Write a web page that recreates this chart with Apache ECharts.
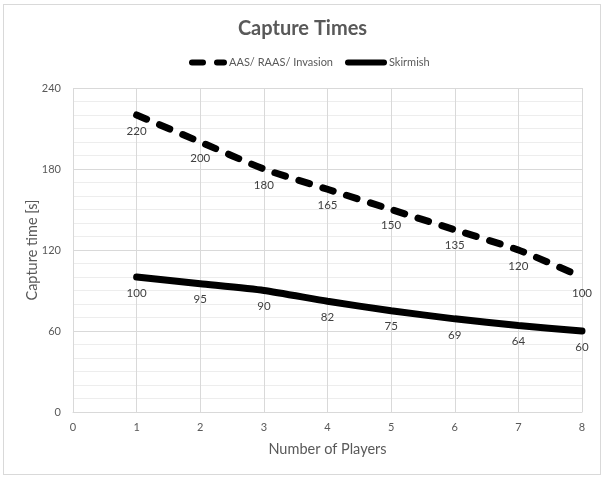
<!DOCTYPE html>
<html>
<head>
<meta charset="utf-8">
<script src="https://cdn.jsdelivr.net/npm/echarts@6/dist/echarts.min.js"></script>
<style>
  html, body { margin: 0; padding: 0; background: #fff; }
  #frame { position: absolute; left: 3px; top: 4px; width: 598px; height: 471px; border: 1px solid #d9d9d9; box-sizing: border-box; }
  #chart { position: absolute; left: 0; top: 0; width: 605px; height: 480px; }
</style>
</head>
<body>
<div id="frame"></div>
<div id="chart"></div>
<script>
// Players per point and the capture time for each game mode
const players = [1, 2, 3, 4, 5, 6, 7, 8];
const aasTimes = [220, 200, 180, 165, 150, 135, 120, 100];
const skirmishTimes = [100, 95, 90, 82, 75, 69, 64, 60];
const seriesNames = ['AAS/ RAAS/ Invasion', 'Skirmish'];

const FONT = 'Lato, "Open Sans", sans-serif';

const toPairs = (xs, ys) => xs.map((x, i) => [x, ys[i]]);

const labelStyle = {
  show: true,
  position: 'bottom',
  distance: 10,
  color: '#404040',
  fontSize: 11.5,
  fontFamily: FONT
};

const legendBase = {
  top: 52,
  itemHeight: 12,
  itemStyle: { opacity: 0 },
  lineStyle: { width: 6 },
  textStyle: { fontFamily: FONT, fontSize: 11, color: '#595959' }
};

const chart = echarts.init(document.getElementById('chart'), null, { renderer: 'canvas' });
chart.setOption({
  backgroundColor: 'transparent',
  animation: false,
  title: {
    text: 'Capture Times',
    left: 'center',
    top: 14,
    textStyle: { fontFamily: FONT, fontSize: 20, fontWeight: 'bold', color: '#595959' }
  },
  legend: [
    Object.assign({ left: 184, itemWidth: 32, data: [seriesNames[0]] }, legendBase),
    Object.assign({ left: 340, itemWidth: 36, data: [seriesNames[1]] }, legendBase)
  ],
  grid: { left: 73, right: 23, top: 88, bottom: 68, containLabel: false },
  xAxis: {
    type: 'value',
    min: 0,
    max: 8,
    interval: 1,
    name: 'Number of Players',
    nameLocation: 'middle',
    nameGap: 30,
    nameTextStyle: { fontFamily: FONT, fontSize: 14.5, color: '#595959' },
    axisLine: { lineStyle: { color: '#d9d9d9' } },
    axisTick: { show: false },
    axisLabel: { fontFamily: FONT, fontSize: 11, color: '#595959', margin: 10 },
    splitLine: { show: true, lineStyle: { color: '#d9d9d9', width: 1 } }
  },
  yAxis: {
    type: 'value',
    min: 0,
    max: 240,
    interval: 60,
    name: 'Capture time [s]',
    nameLocation: 'middle',
    nameGap: 33,
    nameMoveOverlap: false,
    nameTextStyle: { fontFamily: FONT, fontSize: 14.5, color: '#595959' },
    axisLine: { show: false },
    axisTick: { show: false },
    axisLabel: { fontFamily: FONT, fontSize: 11, color: '#595959', margin: 12 },
    splitLine: { show: true, lineStyle: { color: '#d9d9d9', width: 1 } },
    minorTick: { show: false, splitNumber: 6 },
    minorSplitLine: { show: true, lineStyle: { color: '#ededed', width: 1 } }
  },
  series: [
    {
      name: seriesNames[0],
      type: 'line',
      data: toPairs(players, aasTimes),
      smooth: 0.2,
      symbol: 'circle',
      symbolSize: 0,
      showSymbol: true,
      color: '#000',
      lineStyle: { color: '#000', width: 7, type: [11, 14], cap: 'round' },
      label: labelStyle
    },
    {
      name: seriesNames[1],
      type: 'line',
      data: toPairs(players, skirmishTimes),
      smooth: 0.2,
      symbol: 'circle',
      symbolSize: 0,
      showSymbol: true,
      color: '#000',
      lineStyle: { color: '#000', width: 7, cap: 'round' },
      label: labelStyle
    }
  ]
});
</script>
</body>
</html>
